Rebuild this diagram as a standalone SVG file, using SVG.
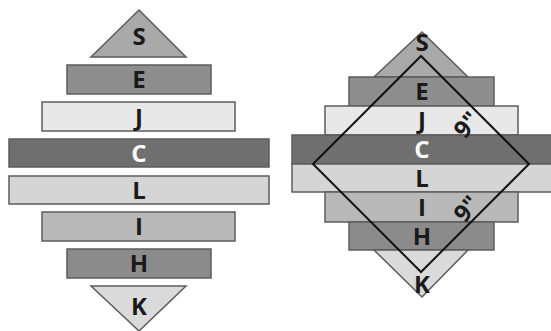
<svg xmlns="http://www.w3.org/2000/svg" width="551" height="331" viewBox="0 0 551 331">
<style>
.b{stroke:#5c5c5c;stroke-width:1.5}
.s{fill:#a9a9a9}.e{fill:#8e8e8e}.j{fill:#e8e8e8}.c{fill:#6f6f6f}.l{fill:#d5d5d5}.i{fill:#b9b9b9}.h{fill:#8b8b8b}.k{fill:#dadada}
text{font-family:"Open Sans","Liberation Sans",sans-serif;font-weight:bold;font-size:24px;text-anchor:middle;fill:#1a1a1a}
text.w{fill:#ffffff}
.d{fill:none;stroke:#111;stroke-width:2}
</style>
<rect width="551" height="331" fill="#ffffff"/>
<g id="left">
<g id="L-S"><polygon class="b s" points="139,10 186,57 91,57"/><text x="139" y="45">S</text></g>
<g id="L-E"><rect class="b e" x="67" y="65" width="144" height="29"/><text x="139" y="88">E</text></g>
<g id="L-J"><rect class="b j" x="42" y="102" width="193" height="29"/><text x="139" y="126">J</text></g>
<g id="L-C"><rect class="b c" x="9" y="139" width="260" height="28"/><text class="w" x="139" y="162">C</text></g>
<g id="L-L"><rect class="b l" x="9" y="176" width="260" height="28"/><text x="139" y="199">L</text></g>
<g id="L-I"><rect class="b i" x="42" y="212" width="193" height="29"/><text x="139" y="235">I</text></g>
<g id="L-H"><rect class="b h" x="67" y="249" width="144" height="29"/><text x="139" y="272">H</text></g>
<g id="L-K"><polygon class="b k" points="91,286 186,286 139,331"/><text x="139" y="315">K</text></g>
</g>
<g id="right">
<g id="R-S"><polygon class="b s" points="422,32 468,77 374,77"/></g>
<g id="R-E"><rect class="b e" x="349" y="77" width="145" height="29"/></g>
<g id="R-J"><rect class="b j" x="325" y="106" width="193" height="29"/></g>
<g id="R-C"><rect class="b c" x="292" y="135" width="262" height="29"/></g>
<g id="R-L"><rect class="b l" x="292" y="164" width="262" height="28"/></g>
<g id="R-I"><rect class="b i" x="325" y="192" width="193" height="30"/></g>
<g id="R-H"><rect class="b h" x="349" y="222" width="145" height="28"/></g>
<g id="R-K"><polygon class="b k" points="374,250 468,250 422,297"/></g>
</g>
<g id="connectors">
<polygon class="d" points="421,56 529,164 421,272 313,164"/>
</g>
<g id="right-labels">
<text x="422" y="51">S</text>
<text x="422" y="100">E</text>
<text x="422" y="129">J</text>
<text class="w" x="422" y="158">C</text>
<text x="422" y="187">L</text>
<text x="422" y="216">I</text>
<text x="422" y="245">H</text>
<text x="422" y="293">K</text>
<text x="0" y="0" transform="translate(467,125) rotate(-50)" dy="8">9"</text>
<text x="0" y="0" transform="translate(467,209) rotate(-50)" dy="8">9"</text>
</g>
</svg>
